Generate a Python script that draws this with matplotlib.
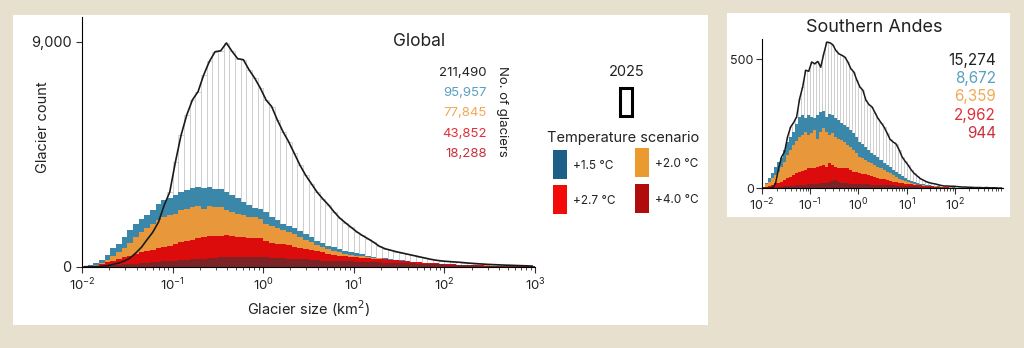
import numpy as np
import matplotlib
matplotlib.use('Agg')
import matplotlib.pyplot as plt
from matplotlib.patches import Rectangle
from matplotlib.ticker import LogLocator, NullFormatter, FuncFormatter

plt.rcParams['font.family'] = ['Inter', 'DejaVu Sans']
plt.rcParams['axes.linewidth'] = 0.8

# glacier counts per size bin (16 log bins per decade, 0.01 - 1000 km2)
# Global
glob_2025 = [0, 0, 5, 15, 40, 94, 147, 228, 348, 549, 777, 1085, 1380, 1782, 2452, 2988,
             4194, 5266, 6070, 6673, 7008, 7678, 8214, 8600, 8640, 8950, 8616, 8321, 8281, 7879,
             7544, 7142, 6673, 6405, 5869, 5400, 4998, 4529, 4060, 3658, 3323, 2988, 2720, 2479,
             2200, 1950, 1760, 1580, 1400, 1250, 1120, 980, 820, 720, 660, 600, 550, 500, 450, 400,
             350, 300, 260, 230, 210, 195, 180, 160, 140, 125, 110, 95, 85, 75, 65, 58, 50, 42, 35, 25]
glob_15 = [20, 80, 147, 281, 470, 737, 925, 1180, 1450, 1690, 1916, 2050, 2250, 2505, 2650, 2760,
           2880, 2990, 3055, 3150, 3190, 3150, 3175, 3120, 3100, 2988, 2881, 2747, 2586, 2479,
           2345, 2318, 2184, 1983, 1849, 1715, 1648, 1541, 1447, 1313, 1179, 1045, 951, 844,
           777, 710, 643, 590, 530, 490, 440, 400, 360, 330, 300, 275, 250, 225, 205, 185,
           165, 150, 135, 120, 108, 97, 88, 80, 72, 65, 58, 52, 46, 40, 35, 30, 26, 22, 18, 14]
glob_20 = [15, 40, 70, 140, 280, 415, 576, 737, 950, 1180, 1380, 1540, 1715, 1876, 1983, 2050,
           2117, 2250, 2318, 2385, 2412, 2318, 2425, 2385, 2385, 2251, 2184, 2117, 2050, 1983,
           1983, 1916, 1715, 1621, 1541, 1487, 1407, 1313, 1179, 1085, 978, 871, 777, 710,
           643, 576, 520, 480, 440, 410, 380, 355, 330, 308, 288, 268, 248, 226, 205, 184,
           165, 150, 135, 120, 107, 96, 87, 79, 71, 64, 57, 51, 45, 39, 34, 29, 25, 21, 17, 13]
glob_27 = [10, 25, 45, 90, 174, 241, 308, 375, 442, 509, 576, 630, 683, 737, 777, 844,
           911, 978, 1030, 1080, 1130, 1180, 1230, 1220, 1210, 1280, 1220, 1190, 1170, 1160,
           1140, 1130, 1020, 960, 915, 910, 871, 790, 740, 710, 650, 620, 576, 509,
           460, 440, 415, 395, 375, 358, 342, 328, 312, 296, 280, 262, 244, 222, 200, 180,
           160, 145, 130, 116, 104, 93, 84, 76, 68, 61, 54, 48, 42, 37, 32, 27, 23, 19, 15, 11]
glob_40 = [5, 10, 20, 30, 45, 60, 80, 95, 107, 120, 134, 150, 174, 195, 214, 228,
           241, 260, 281, 295, 308, 320, 335, 350, 375, 380, 370, 385, 375, 390,
           380, 370, 375, 345, 335, 330, 310, 305, 300, 295, 260, 250, 245, 240,
           235, 228, 220, 212, 205, 198, 190, 182, 175, 168, 160, 152, 145, 137, 130, 122,
           114, 106, 98, 90, 83, 76, 69, 62, 56, 50, 45, 40, 35, 30, 26, 22, 18, 15, 12, 9]

# Southern Andes
sa_2025 = [0, 0, 0, 2, 19, 77, 122, 142, 200, 238, 255, 277, 348, 393, 458, 454,
           490, 483, 492, 470, 522, 567, 565, 557, 535, 522, 516, 509, 490, 464,
           451, 419, 393, 380, 342, 325, 316, 294, 271, 255, 238, 215, 190, 180,
           172, 150, 122, 105, 90, 72, 58, 48, 38, 32, 26, 22, 19, 17, 14, 11,
           9, 9, 8, 8, 7, 6, 5, 5, 4, 4, 3, 3, 3, 2, 3, 2, 2, 2, 1, 1]
sa_15 = [6, 19, 39, 58, 84, 103, 116, 148, 180, 200, 219, 251, 277, 284, 271, 284,
         277, 271, 284, 296, 299, 277, 290, 284, 271, 264, 255, 247, 238, 226,
         213, 200, 180, 170, 160, 148, 138, 128, 120, 110, 100, 92, 84, 72,
         62, 55, 47, 40, 34, 28, 24, 20, 17, 15, 13, 11, 9, 8, 7, 6,
         5, 5, 4, 4, 3, 3, 3, 2, 2, 2, 1, 1, 1, 1, 1, 1, 0, 0, 0, 0]
sa_20 = [6, 15, 26, 39, 52, 64, 84, 103, 129, 148, 168, 183, 200, 206, 219, 206,
         213, 226, 193, 219, 232, 219, 206, 213, 200, 193, 187, 180, 168, 161,
         148, 135, 122, 116, 110, 103, 97, 90, 84, 78, 72, 65, 58, 52,
         45, 38, 32, 27, 23, 20, 17, 14, 12, 11, 10, 9, 8, 7, 6, 5,
         5, 4, 4, 3, 3, 3, 2, 2, 2, 2, 1, 1, 1, 1, 1, 0, 0, 0, 0, 0]
sa_27 = [4, 6, 10, 13, 19, 22, 26, 32, 39, 45, 52, 58, 64, 67, 71, 77,
         80, 77, 84, 88, 90, 84, 97, 90, 84, 80, 77, 80, 77, 71,
         64, 62, 58, 56, 54, 52, 49, 45, 41, 38, 35, 32, 29, 26,
         24, 22, 20, 18, 17, 15, 14, 12, 11, 10, 9, 8, 7, 6, 5, 5,
         4, 4, 3, 3, 3, 2, 2, 2, 2, 1, 1, 1, 1, 1, 0, 0, 0, 0, 0, 0]
sa_40 = [3, 3, 3, 4, 4, 5, 6, 7, 8, 9, 10, 11, 12, 13, 14, 15,
         16, 17, 18, 19, 20, 22, 25, 28, 31, 26, 22, 20, 19, 18,
         17, 17, 16, 16, 15, 15, 14, 14, 13, 13, 12, 12, 11, 11,
         10, 10, 9, 9, 8, 8, 7, 7, 6, 6, 5, 5, 4, 4, 4, 3,
         3, 3, 3, 2, 2, 2, 2, 2, 1, 1, 1, 1, 1, 1, 1, 0, 0, 0, 0, 0]

glob_counts = ['211,490', '95,957', '77,845', '43,852', '18,288']
sa_counts = ['15,274', '8,672', '6,359', '2,962', '944']
scenarios = ['+1.5 °C', '+2.0 °C', '+2.7 °C', '+4.0 °C']

bar_colors = ['#3a87aa', '#e8983a', '#dc0c0c', '#7b2327']
legend_colors = ['#1d5f86', '#ea9a2e', '#f50a0a', '#b00c0c']
count_colors = ['#222222', '#5aa0c2', '#f0aa55', '#e0303a', '#c8303e']

edges = np.logspace(-2, 3, 81)
widths = np.diff(edges)
centers = np.sqrt(edges[:-1] * edges[1:])

W, H = 1024, 348
fig = plt.figure(figsize=(W / 100, H / 100), dpi=100)
fig.patch.set_facecolor('#e8e0cf')


def fx(x):
    return x / W


def fy(y):
    return 1 - y / H


# white panels
fig.add_artist(Rectangle((fx(13), fy(325)), fx(695), 310 / H, transform=fig.transFigure,
                         facecolor='white', edgecolor='none', zorder=0))
fig.add_artist(Rectangle((fx(727), fy(217)), fx(283), 204 / H, transform=fig.transFigure,
                         facecolor='white', edgecolor='none', zorder=0))


def draw_hist(ax, total, series, lw_line):
    ax.bar(edges[:-1], total, width=widths, align='edge', facecolor='white',
           edgecolor='#c8c8c8', linewidth=0.55, zorder=1)
    for vals, c in zip(series, bar_colors):
        ax.bar(edges[:-1], vals, width=widths, align='edge', color=c, linewidth=0, zorder=2)
    ax.plot(centers, total, color='#1a1a1a', lw=lw_line, zorder=3)
    ax.set_xscale('log')
    ax.set_xlim(1e-2, 1e3)
    ax.set_facecolor('none')
    for s in ['top', 'right']:
        ax.spines[s].set_visible(False)
    ax.xaxis.set_minor_locator(LogLocator(base=10, subs=np.arange(2, 10), numticks=20))
    ax.xaxis.set_minor_formatter(NullFormatter())
    ax.tick_params(which='major', direction='out', length=4, width=0.8, colors='#333333',
                   labelcolor='#222222')
    ax.tick_params(which='minor', direction='out', length=2, width=0.6, colors='#333333')


# left panel: Global
ax1 = fig.add_axes([fx(82), fy(266.7), fx(535 - 82), (266.7 - 17) / H])
ax1.set_zorder(1)
draw_hist(ax1, glob_2025, [glob_15, glob_20, glob_27, glob_40], 1.2)
ax1.set_ylim(0, 9990)
ax1.set_yticks([0, 9000])
ax1.yaxis.set_major_formatter(FuncFormatter(lambda v, p: f'{int(v):,}'))
ax1.set_xticks(10.0 ** np.arange(-2, 4))
ax1.tick_params(axis='x', labelsize=9.5)
ax1.tick_params(axis='y', labelsize=10.5)
ax1.set_xlabel('Glacier size (km$^2$)', fontsize=10.5, color='#222222', labelpad=3)
fig.text(fx(43), fy(127), 'Glacier count', fontsize=10.5, rotation=90,
         ha='center', va='center', color='#222222')

fig.text(fx(393), fy(41), 'Global', fontsize=12.5, ha='left', va='center', color='#222222')
for i, (t, c) in enumerate(zip(glob_counts, count_colors)):
    fig.text(fx(487), fy(72.7 + i * 20.3), t, fontsize=9.5, ha='right', va='center', color=c)
fig.text(fx(502), fy(111.7), 'No. of glaciers', fontsize=9.5, rotation=-90,
         ha='center', va='center', color='#222222')

# legend
fig.text(fx(626.7), fy(71.7), '2025', fontsize=10.5, ha='center', va='center', color='#222222')
fig.add_artist(Rectangle((fx(620), fy(116)), fx(12), 28 / H, transform=fig.transFigure,
                         facecolor='white', edgecolor='black', linewidth=2.2, zorder=2))
fig.text(fx(547), fy(138), 'Temperature scenario', fontsize=10.5, ha='left', va='center',
         color='#222222')
sw_pos = [(553, 150), (635, 148), (553, 185), (635, 184)]
for (sx, sy), c, lab in zip(sw_pos, legend_colors, scenarios):
    fig.add_artist(Rectangle((fx(sx), fy(sy + 29)), fx(13.5), 29 / H, transform=fig.transFigure,
                             facecolor=c, edgecolor='none', zorder=2))
    fig.text(fx(sx + 20), fy(sy + 16), lab, fontsize=8.5, ha='left', va='center', color='#222222')

# right panel: Southern Andes
ax2 = fig.add_axes([fx(762), fy(188.3), fx(1003 - 762), (188.3 - 39.3) / H])
ax2.set_zorder(1)
draw_hist(ax2, sa_2025, [sa_15, sa_20, sa_27, sa_40], 1.1)
ax2.set_ylim(0, 578)
ax2.set_yticks([0, 500])
ax2.set_xticks(10.0 ** np.arange(-2, 3))
ax2.tick_params(labelsize=9, pad=2)

fig.text(fx(874), fy(28), 'Southern Andes', fontsize=13, ha='center', va='center', color='#222222')
for i, (t, c) in enumerate(zip(sa_counts, count_colors)):
    fig.text(fx(996), fy(60 + i * 18.4), t, fontsize=11, ha='right', va='center', color=c)

fig.savefig('out.png', dpi=100, facecolor=fig.get_facecolor())
